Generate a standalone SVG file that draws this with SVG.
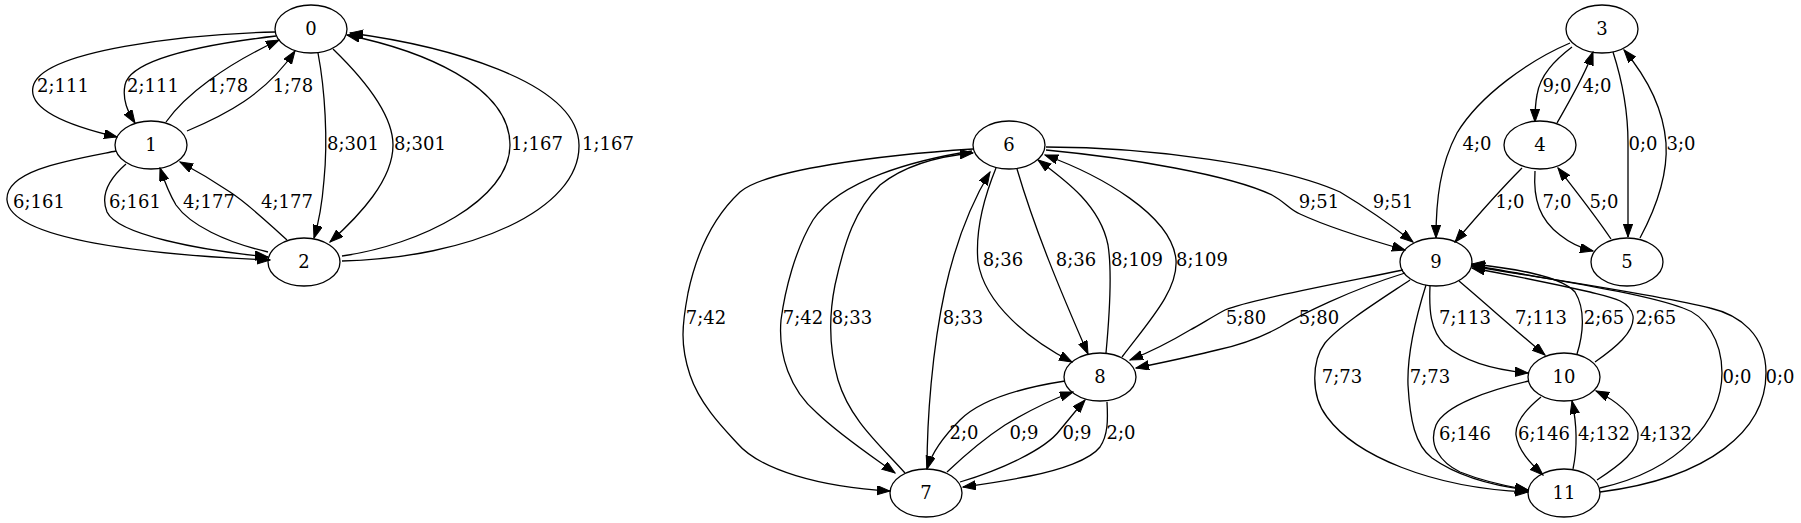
<svg xmlns="http://www.w3.org/2000/svg" width="1801" height="523" viewBox="0 0 1801 523">
<style>
.n ellipse{fill:none;stroke:#000;stroke-width:1.3}
text{font-family:"DejaVu Serif","Liberation Serif",serif;font-size:18px;fill:#000;text-anchor:middle}
#edges path{fill:none;stroke:#000;stroke-width:1.3;marker-end:url(#ah)}
</style>
<defs>
<marker id="ah" markerUnits="userSpaceOnUse" markerWidth="14" markerHeight="10" refX="13" refY="4.65" orient="auto" viewBox="0 0 14 10">
<path d="M0,0 L13,4.65 L0,9.3 z" fill="#000" stroke="#000" stroke-width="1"/>
</marker>
</defs>
<rect width="1801" height="523" fill="#fff"/>
<g id="edges">
<path d="M275,32 C190,34 40,50 33,87 C28,110 70,126 117,137"/>
<path d="M276,36 C200,45 130,60 125,85 C122,100 128,112 135,123"/>
<path d="M166,122 C185,95 225,65 279,40"/>
<path d="M187,131 C225,115 265,95 295,51"/>
<path d="M318,53 C325,90 328,140 324,180 C322,205 318,225 314,238"/>
<path d="M333,49 C365,80 393,115 393,145 C393,180 360,215 330,242"/>
<path d="M116,151 C70,160 5,170 7,200 C10,240 150,255 270,260"/>
<path d="M126,164 C110,178 100,195 107,212 C118,235 200,250 268,257"/>
<path d="M268,252 C225,242 190,225 176,205 C170,195 164,180 160,168"/>
<path d="M287,240 C270,225 250,205 230,192 C215,182 195,170 180,162"/>
<path d="M342,256 C420,245 510,200 510,145 C510,85 420,50 347,35"/>
<path d="M342,261 C470,258 580,210 579,145 C578,80 440,45 350,33"/>
<path d="M973,149 C880,155 765,170 740,192 C710,220 695,260 688,293 C682,325 680,345 690,375 C700,405 725,430 737,443 C760,470 820,487 890,491"/>
<path d="M972,151 C915,160 840,180 813,220 C795,250 785,290 781,320 C778,355 790,390 817,413 C840,435 870,455 895,473"/>
<path d="M905,473 C880,445 850,420 838,380 C828,345 830,310 835,285 C845,240 855,210 880,185 C905,165 940,156 973,153"/>
<path d="M927,469 C927,420 932,350 945,290 C955,245 970,205 990,172"/>
<path d="M996,168 C985,195 975,230 978,262 C985,305 1030,340 1072,362"/>
<path d="M1017,169 C1035,230 1060,290 1088,354"/>
<path d="M1106,353 C1110,310 1112,270 1108,245 C1100,205 1065,180 1038,160"/>
<path d="M1122,357 C1150,320 1178,290 1176,260 C1172,215 1100,175 1045,155"/>
<path d="M1046,150 C1130,158 1230,175 1272,195 C1285,202 1290,210 1300,214 C1330,228 1370,240 1405,250"/>
<path d="M1046,147 C1150,147 1280,165 1340,192 C1370,210 1395,228 1413,242"/>
<path d="M1403,270 C1330,285 1250,300 1225,310 C1210,318 1200,325 1190,330 C1170,342 1150,352 1130,360"/>
<path d="M1405,273 C1350,290 1300,315 1280,327 C1260,338 1240,345 1217,350 C1190,357 1160,363 1136,368"/>
<path d="M1065,381 C1020,388 980,400 960,420 C943,437 932,452 927,469"/>
<path d="M947,472 C965,455 985,438 1005,425 C1030,410 1050,400 1073,392"/>
<path d="M960,482 C1000,470 1045,450 1060,430 C1070,418 1078,408 1085,400"/>
<path d="M1107,402 C1108,420 1108,435 1100,447 C1090,460 1060,470 1030,476 C1010,480 985,484 963,487"/>
<path d="M1410,280 C1380,300 1340,325 1325,343 C1312,360 1310,395 1327,417 C1355,455 1430,488 1528,492"/>
<path d="M1426,285 C1415,320 1407,355 1408,385 C1410,420 1415,445 1432,458 C1460,478 1495,486 1528,490"/>
<path d="M1430,286 C1429,310 1430,330 1445,345 C1465,362 1495,370 1528,373"/>
<path d="M1459,281 C1485,303 1515,330 1545,355"/>
<path d="M1577,354 C1583,335 1586,310 1575,292 C1560,275 1510,268 1472,264"/>
<path d="M1595,362 C1615,348 1635,332 1633,316 C1630,300 1610,297 1590,292 C1550,283 1510,275 1472,268"/>
<path d="M1600,488 C1680,470 1722,420 1722,373 C1722,340 1705,315 1683,308 C1640,292 1540,278 1472,265"/>
<path d="M1600,492 C1710,478 1766,430 1766,373 C1766,335 1740,315 1710,308 C1660,295 1540,278 1472,266"/>
<path d="M1529,381 C1490,390 1445,405 1436,425 C1428,445 1440,462 1460,472 C1480,480 1505,486 1528,490"/>
<path d="M1541,397 C1525,410 1515,423 1516,435 C1518,450 1530,463 1543,475"/>
<path d="M1573,469 C1578,445 1576,420 1572,401"/>
<path d="M1597,480 C1620,465 1640,450 1638,433 C1635,415 1615,400 1596,391"/>
<path d="M1570,43 C1530,60 1480,95 1457,133 C1440,165 1436,200 1436,238"/>
<path d="M1572,47 C1555,60 1540,75 1537,95 C1535,105 1535,112 1535,122"/>
<path d="M1557,123 C1570,100 1585,75 1593,52"/>
<path d="M1613,52 C1622,80 1628,110 1628,143 C1628,180 1628,210 1628,237"/>
<path d="M1640,238 C1655,210 1668,175 1666,143 C1663,105 1645,75 1624,50"/>
<path d="M1522,168 C1500,190 1478,215 1455,242"/>
<path d="M1535,171 C1533,200 1540,220 1560,235 C1570,243 1580,248 1593,251"/>
<path d="M1611,239 C1595,215 1575,190 1558,168"/>
</g>
<g id="edge-labels">
<text x="63" y="92">2;111</text>
<text x="153" y="92">2;111</text>
<text x="228" y="92">1;78</text>
<text x="293" y="92">1;78</text>
<text x="353" y="150">8;301</text>
<text x="420" y="150">8;301</text>
<text x="537" y="150">1;167</text>
<text x="608" y="150">1;167</text>
<text x="39" y="208">6;161</text>
<text x="135" y="208">6;161</text>
<text x="209" y="208">4;177</text>
<text x="287" y="208">4;177</text>
<text x="706" y="324">7;42</text>
<text x="803" y="324">7;42</text>
<text x="852" y="324">8;33</text>
<text x="963" y="324">8;33</text>
<text x="1003" y="266">8;36</text>
<text x="1076" y="266">8;36</text>
<text x="1137" y="266">8;109</text>
<text x="1202" y="266">8;109</text>
<text x="1319" y="208">9;51</text>
<text x="1393" y="208">9;51</text>
<text x="1246" y="324">5;80</text>
<text x="1319" y="324">5;80</text>
<text x="964" y="439">2;0</text>
<text x="1024" y="439">0;9</text>
<text x="1077" y="439">0;9</text>
<text x="1121" y="439">2;0</text>
<text x="1477" y="150">4;0</text>
<text x="1557" y="92">9;0</text>
<text x="1597" y="92">4;0</text>
<text x="1643" y="150">0;0</text>
<text x="1681" y="150">3;0</text>
<text x="1510" y="208">1;0</text>
<text x="1557" y="208">7;0</text>
<text x="1604" y="208">5;0</text>
<text x="1465" y="324">7;113</text>
<text x="1541" y="324">7;113</text>
<text x="1604" y="324">2;65</text>
<text x="1656" y="324">2;65</text>
<text x="1342" y="383">7;73</text>
<text x="1430" y="383">7;73</text>
<text x="1737" y="383">0;0</text>
<text x="1780" y="383">0;0</text>
<text x="1465" y="440">6;146</text>
<text x="1544" y="440">6;146</text>
<text x="1604" y="440">4;132</text>
<text x="1666" y="440">4;132</text>
</g>
<g id="node0" class="n"><ellipse cx="311" cy="29" rx="36" ry="24"/><text x="311" y="35">0</text></g>
<g id="node1" class="n"><ellipse cx="151" cy="145" rx="36" ry="24"/><text x="151" y="151">1</text></g>
<g id="node2" class="n"><ellipse cx="304" cy="262" rx="36" ry="24"/><text x="304" y="268">2</text></g>
<g id="node3" class="n"><ellipse cx="1602" cy="29" rx="36" ry="24"/><text x="1602" y="35">3</text></g>
<g id="node4" class="n"><ellipse cx="1540" cy="145" rx="36" ry="24"/><text x="1540" y="151">4</text></g>
<g id="node5" class="n"><ellipse cx="1627" cy="262" rx="36" ry="24"/><text x="1627" y="268">5</text></g>
<g id="node6" class="n"><ellipse cx="1009" cy="145" rx="36" ry="24"/><text x="1009" y="151">6</text></g>
<g id="node7" class="n"><ellipse cx="926" cy="493" rx="36" ry="24"/><text x="926" y="499">7</text></g>
<g id="node8" class="n"><ellipse cx="1100" cy="377" rx="36" ry="24"/><text x="1100" y="383">8</text></g>
<g id="node9" class="n"><ellipse cx="1436" cy="262" rx="36" ry="24"/><text x="1436" y="268">9</text></g>
<g id="node10" class="n"><ellipse cx="1564" cy="377" rx="36" ry="24"/><text x="1564" y="383">10</text></g>
<g id="node11" class="n"><ellipse cx="1564" cy="493" rx="36" ry="24"/><text x="1564" y="499">11</text></g>
</svg>
